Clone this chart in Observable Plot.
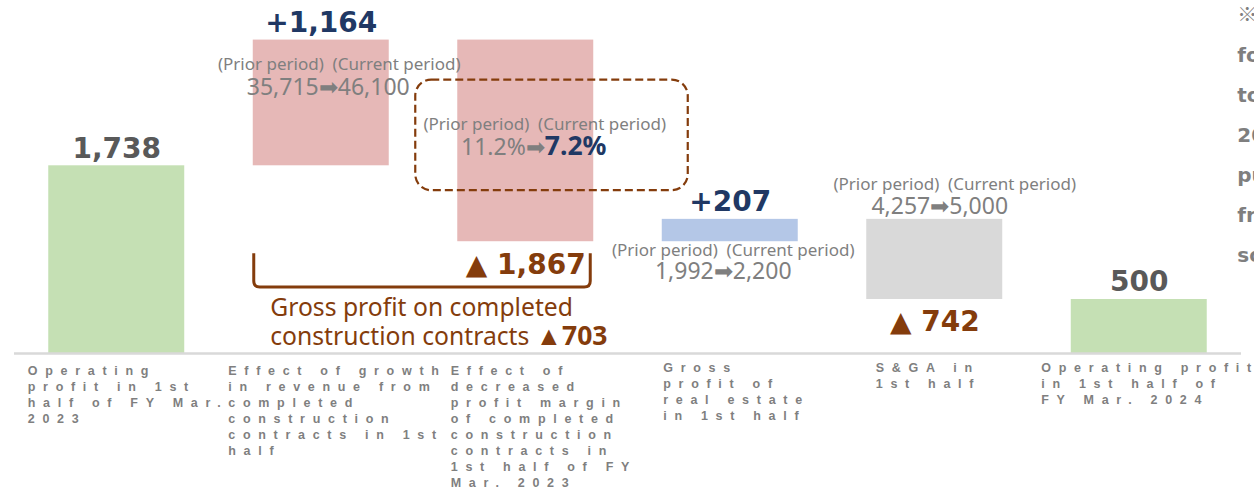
<!DOCTYPE html>
<html>
<head>
<meta charset="utf-8">
<script src="https://cdn.jsdelivr.net/npm/d3@7"></script>
<script src="https://cdn.jsdelivr.net/npm/@observablehq/plot@0.6"></script>
<style>
  html, body { margin: 0; padding: 0; background: #fff; overflow: hidden; }
  #chart svg { display: block; overflow: hidden; }
  g[aria-description="category-label"] text,
  g[aria-description="category-label"] tspan { letter-spacing: 7.7px; }
</style>
</head>
<body>
<div id="chart"></div>
<script>
// ---------- data ----------
const categories = [
  "Operating\nprofit in 1st\nhalf of FY Mar.\n2023",
  "Effect of growth\nin revenue from\ncompleted\nconstruction\ncontracts in 1st\nhalf",
  "Effect of\ndecreased\nprofit margin\nof completed\nconstruction\ncontracts in\n1st half of FY\nMar. 2023",
  "Gross\nprofit of\nreal estate\nin 1st half",
  "S&GA in\n1st half",
  "Operating profit\nin 1st half of\nFY Mar. 2024"
];
const values = [1738, 1164, -1867, 207, -742, 500];
const kinds = ["total", "change", "change", "change", "change", "total"];
const groups = ["total", "construction", "construction", "realEstate", "sga", "total"];
const priorValues = ["", "35,715", "11.2%", "1,992", "4,257", ""];
const currentValues = ["", "46,100", "7.2%", "2,200", "5,000", ""];
const periodHeader = "(Prior period)  (Current period)";
const bracketNoteLines = ["Gross profit on completed", "construction contracts "];
const sideNoteLines = ["※", "fo", "to", "20", "pu", "fr", "so"];

// ---------- styles ----------
const fillByGroup = {total: "#C5E0B4", construction: "#E6B8B7", realEstate: "#B4C7E7", sga: "#D9D9D9"};
const NAVY = "#203864", BROWN = "#843C0C", DARK = "#595959", GRAY = "#7F7F7F";
const VALUE_FONT = "DejaVu Sans, Verdana, sans-serif";
const NOTE_FONT = "Noto Sans, sans-serif";
const LABEL_FONT = "Liberation Sans, Arial, sans-serif";

// ---------- derived rows ----------
const fmt = d3.format(",");
let run = 0;
const rows = categories.map((category, i) => {
  const v = values[i];
  let y1, y2;
  if (kinds[i] === "total") { y1 = 0; y2 = v; run = v; }
  else { y1 = run; y2 = run + v; run = y2; }
  return {i, category, value: v, kind: kinds[i], group: groups[i], y1, y2,
          top: Math.max(y1, y2), bottom: Math.min(y1, y2), fill: fillByGroup[groups[i]]};
});
const valueText = d => d.kind === "total" ? fmt(d.value) : d.value > 0 ? "+" + fmt(d.value) : "▲ " + fmt(-d.value);
const valueColor = d => d.kind === "total" ? DARK : d.value > 0 ? NAVY : BROWN;
const constructionSum = d3.sum(rows.filter(d => d.group === "construction"), d => d.value);
const bracketValue = "▲" + fmt(Math.abs(constructionSum));

// per-bar layout of annotation lines (pixel offsets)
const annLayout = {
  1: {ref: "top", head: [18, 24], val: [7, 48]},
  2: {ref: "top", head: [19, 84], val: [8, 108]},
  3: {ref: "bottom", head: [3, 9], val: [-7, 30]},
  4: {ref: "top", head: [20, -35], val: [5, -13]}
};
const labelDx = [-89, -93, -75, -67, -59, -98];
const labelDy = [10, 10, 10, 7, 7, 7];

// ---------- marks ----------
const marks = [
  Plot.barY(rows, {x: "category", y1: "y1", y2: "y2", fill: "fill"}),
  Plot.ruleY([0], {stroke: "#D9D9D9", strokeWidth: 2.5}),
  ...rows.filter(d => !(d.kind === "change" && d.value < 0)).map(d =>
    Plot.text([d], {x: "category", y: "top", text: valueText, fill: valueColor(d), dy: -17,
      fontSize: 28, fontWeight: "bold", fontFamily: VALUE_FONT})),
  ...rows.filter(d => d.kind === "change" && d.value < 0).map(d =>
    Plot.text([d], {x: "category", y: "bottom", text: valueText, fill: valueColor(d), dy: 23,
      fontSize: 28, fontWeight: "bold", fontFamily: VALUE_FONT})),
  ...rows.map((d, i) =>
    Plot.text([d], {x: "category", y: () => 0, text: "category", textAnchor: "start", lineAnchor: "top",
      dx: labelDx[i], dy: labelDy[i], lineHeight: 1.28, fontSize: 12.5, fontWeight: "bold",
      fill: GRAY, fontFamily: LABEL_FONT, ariaDescription: "category-label"})),
  ...rows.filter(d => priorValues[d.i]).flatMap(d => {
    const L = annLayout[d.i];
    return [
      Plot.text([d], {x: "category", y: L.ref, text: () => periodHeader, dx: L.head[0], dy: L.head[1],
        fontSize: 17, fill: GRAY, fontFamily: NOTE_FONT}),
      Plot.text([d], {x: "category", y: L.ref, text: () => priorValues[d.i] + "➡" + currentValues[d.i],
        dx: L.val[0], dy: L.val[1], fontSize: 23, fill: GRAY, fontFamily: NOTE_FONT,
        ariaDescription: "annotation-value-" + d.i})
    ];
  }),
  Plot.text([rows[1]], {x: "category", y: () => 0, text: () => bracketNoteLines[0], textAnchor: "start",
    dx: -51, dy: -45, fontSize: 24.7, fill: BROWN, fontFamily: NOTE_FONT}),
  Plot.text([rows[1]], {x: "category", y: () => 0, text: () => bracketNoteLines[1] + bracketValue, textAnchor: "start",
    dx: -51, dy: -16, fontSize: 24.7, fill: BROWN, fontFamily: NOTE_FONT, ariaDescription: "bracket-note"}),
  Plot.text([sideNoteLines.join("\n")], {x: () => categories[5], frameAnchor: "top", text: d => d,
    textAnchor: "start", lineAnchor: "top", dx: 98, dy: -36, lineHeight: 2,
    fontSize: 20, fontWeight: "bold", fill: GRAY, fontFamily: VALUE_FONT, ariaDescription: "side-note"})
];

const plot = Plot.plot({
  width: 1254,
  height: 490,
  marginLeft: 14,
  marginRight: 13,
  marginTop: 29,
  marginBottom: 137,
  style: {background: "#fff"},
  x: {domain: categories, paddingInner: 0.335, paddingOuter: 0.1675, round: false, axis: null},
  y: {domain: [0, 3000], axis: null},
  color: {type: "identity"},
  marks
});

// ---------- post-processing: mixed styles, dashed box, bracket ----------
const svg = d3.select(plot);
rows.filter(d => priorValues[d.i]).forEach(d => {
  const t = svg.select(`g[aria-description="annotation-value-${d.i}"] text`);
  t.text(null);
  t.append("tspan").text(priorValues[d.i]);
  t.append("tspan").text("➡");
  const c = t.append("tspan").text(currentValues[d.i]);
  if (d.i === 2) c.attr("fill", NAVY).attr("font-weight", "bold").attr("font-size", 26.5);
});
{
  const t = svg.select(`g[aria-description="bracket-note"] text`);
  t.text(null);
  t.append("tspan").text(bracketNoteLines[1]);
  t.append("tspan").attr("font-weight", "bold").attr("font-size", 26.5).text(bracketValue);
}
svg.selectAll(`g[aria-description="side-note"] tspan`).filter((d, i) => i === 0)
  .attr("font-family", "Noto Sans CJK JP").attr("font-weight", "bold");

const xs = plot.scale("x"), ys = plot.scale("y");
const xb = c => xs.apply(c);
const bw = xs.bandwidth;
const yv = v => ys.apply(v);
const g = svg.append("g").attr("fill", "none").attr("stroke", BROWN);

const bx0 = xb(categories[2]) - 42, bx1 = xb(categories[3]) + 26;
const by0 = yv(rows[2].top) + 40, by1 = yv(rows[2].bottom) - 51;
g.append("rect").attr("x", bx0).attr("y", by0).attr("width", bx1 - bx0).attr("height", by1 - by0)
  .attr("rx", 16).attr("stroke-width", 2.2).attr("stroke-dasharray", "8,4");

const k0 = xb(categories[1]) + 1, k1 = xb(categories[2]) + bw - 3;
const kt = yv(rows[2].bottom) + 12, kb = yv(0) - 66, r = 6;
g.append("path").attr("stroke-width", 3)
  .attr("d", `M${k0},${kt}V${kb - r}Q${k0},${kb} ${k0 + r},${kb}H${k1 - r}Q${k1},${kb} ${k1},${kb - r}V${kt}`);

document.getElementById("chart").appendChild(plot);
</script>
</body>
</html>
